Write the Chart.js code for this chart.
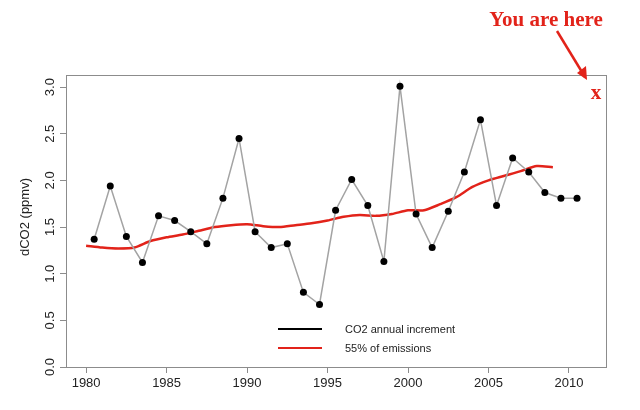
<!DOCTYPE html>
<html>
<head>
<meta charset="utf-8">
<script src="https://cdn.jsdelivr.net/npm/chart.js@4/dist/chart.umd.min.js"></script>
<style>
  html, body { margin: 0; padding: 0; background: #fff; }
  #box { width: 640px; height: 410px; }
</style>
</head>
<body>
<div id="box"><canvas id="co2-chart"></canvas></div>
<script>
// annual CO2 increment (points at mid-year)
const years = [1980.5, 1981.5, 1982.5, 1983.5, 1984.5, 1985.5, 1986.5, 1987.5, 1988.5, 1989.5,
               1990.5, 1991.5, 1992.5, 1993.5, 1994.5, 1995.5, 1996.5, 1997.5, 1998.5, 1999.5,
               2000.5, 2001.5, 2002.5, 2003.5, 2004.5, 2005.5, 2006.5, 2007.5, 2008.5, 2009.5, 2010.5];
const co2Increment = [1.37, 1.94, 1.40, 1.12, 1.62, 1.57, 1.45, 1.32, 1.81, 2.45,
                      1.45, 1.28, 1.32, 0.80, 0.67, 1.68, 2.01, 1.73, 1.13, 3.01,
                      1.64, 1.28, 1.67, 2.09, 2.65, 1.73, 2.24, 2.09, 1.87, 1.81, 1.81];

// 55% of emissions
const emissionYears = [1980, 1981, 1982, 1983, 1984, 1985, 1986, 1987, 1988, 1989,
                       1990, 1991, 1992, 1993, 1994, 1995, 1996, 1997, 1998, 1999,
                       2000, 2001, 2002, 2003, 2004, 2005, 2006, 2007, 2008, 2009];
const emissions55 = [1.30, 1.28, 1.27, 1.28, 1.35, 1.39, 1.42, 1.46, 1.50, 1.52,
                     1.53, 1.51, 1.50, 1.52, 1.54, 1.57, 1.61, 1.63, 1.62, 1.64,
                     1.68, 1.68, 1.745, 1.82, 1.93, 2.00, 2.05, 2.10, 2.155, 2.14];

const xTicks = [1980, 1985, 1990, 1995, 2000, 2005, 2010];
const yTicks = [0.0, 0.5, 1.0, 1.5, 2.0, 2.5, 3.0];
const legendLabels = ['CO2 annual increment', '55% of emissions'];

const axisGrey = '#8c8c8c';
const red = '#e2231a';

// box, rotated y labels, legend and the "You are here" note
const extras = {
    id: 'extras',
    afterDraw(chart) {
        const ctx = chart.ctx;
        const a = chart.chartArea;
        const y = chart.scales.y;
        ctx.save();

        ctx.strokeStyle = axisGrey;
        ctx.lineWidth = 1;
        ctx.strokeRect(a.left + 0.5, a.top + 0.5, a.right - a.left, a.bottom - a.top);

        ctx.fillStyle = '#222';
        ctx.font = '13px "Liberation Sans", Arial, sans-serif';
        ctx.textAlign = 'center';
        ctx.textBaseline = 'middle';
        yTicks.forEach(v => {
            ctx.save();
            ctx.translate(50, y.getPixelForValue(v));
            ctx.rotate(-Math.PI / 2);
            ctx.fillText(v.toFixed(1), 0, 0);
            ctx.restore();
        });
        ctx.save();
        ctx.translate(25, (a.top + a.bottom) / 2 - 4);
        ctx.rotate(-Math.PI / 2);
        ctx.fillText('dCO2 (ppmv)', 0, 0);
        ctx.restore();

        // legend
        ctx.font = '11px "Liberation Sans", Arial, sans-serif';
        ctx.textAlign = 'left';
        ctx.lineWidth = 2;
        [['#000', 329], [red, 348]].forEach((item, i) => {
            ctx.strokeStyle = item[0];
            ctx.beginPath();
            ctx.moveTo(278, item[1]);
            ctx.lineTo(322, item[1]);
            ctx.stroke();
            ctx.fillStyle = '#222';
            ctx.fillText(legendLabels[i], 345, item[1] + 1);
        });

        // note
        ctx.fillStyle = red;
        ctx.strokeStyle = red;
        ctx.font = 'bold 21px "Liberation Serif", "DejaVu Serif", serif';
        ctx.textAlign = 'center';
        ctx.textBaseline = 'alphabetic';
        ctx.fillText('You are here', 546, 26);
        ctx.fillText('x', 596, 99);
        ctx.lineWidth = 2.5;
        ctx.beginPath();
        ctx.moveTo(557, 31);
        ctx.lineTo(585, 77);
        ctx.stroke();
        ctx.beginPath();
        ctx.moveTo(587, 80);
        ctx.lineTo(577, 73);
        ctx.lineTo(586, 66);
        ctx.closePath();
        ctx.fill();
        ctx.restore();
    }
};

const ctx = document.getElementById('co2-chart').getContext('2d');

const co2Chart = new Chart(ctx, {
    type: 'scatter',
    data: {
        datasets: [{
            label: legendLabels[0],
            data: years.map((x, i) => ({ x: x, y: co2Increment[i] })),
            showLine: true,
            borderColor: '#a3a3a3',
            borderWidth: 1.5,
            pointRadius: 3.5,
            pointBackgroundColor: '#000',
            pointBorderColor: '#000',
            pointBorderWidth: 0
        },
        {
            label: legendLabels[1],
            data: emissionYears.map((x, i) => ({ x: x, y: emissions55[i] })),
            showLine: true,
            borderColor: red,
            borderWidth: 2.5,
            pointRadius: 0,
            tension: 0.25
        }]
    },
    options: {
        responsive: true,
        maintainAspectRatio: false,
        animation: false,
        layout: { padding: { top: 75, right: 34, left: 0, bottom: 0 } },
        plugins: {
            legend: { display: false },
            tooltip: { enabled: false }
        },
        scales: {
            x: {
                type: 'linear',
                min: 1978.75,
                max: 2012.3,
                afterBuildTicks: s => { s.ticks = xTicks.map(v => ({ value: v })); },
                afterFit: s => { s.height = 43; },
                grid: { drawOnChartArea: false, drawTicks: true, tickLength: 6, color: axisGrey },
                border: { display: true, color: axisGrey },
                ticks: {
                    color: '#222',
                    padding: 3,
                    maxRotation: 0,
                    font: { family: '"Liberation Sans", Arial, sans-serif', size: 13 },
                    callback: v => String(v)
                }
            },
            y: {
                min: 0,
                max: 3.13,
                afterBuildTicks: s => { s.ticks = yTicks.map(v => ({ value: v })); },
                afterFit: s => { s.width = 66; },
                grid: { drawOnChartArea: false, drawTicks: true, tickLength: 6, color: axisGrey },
                border: { display: true, color: axisGrey },
                ticks: { display: false }
            }
        }
    },
    plugins: [extras]
});
</script>
</body>
</html>
